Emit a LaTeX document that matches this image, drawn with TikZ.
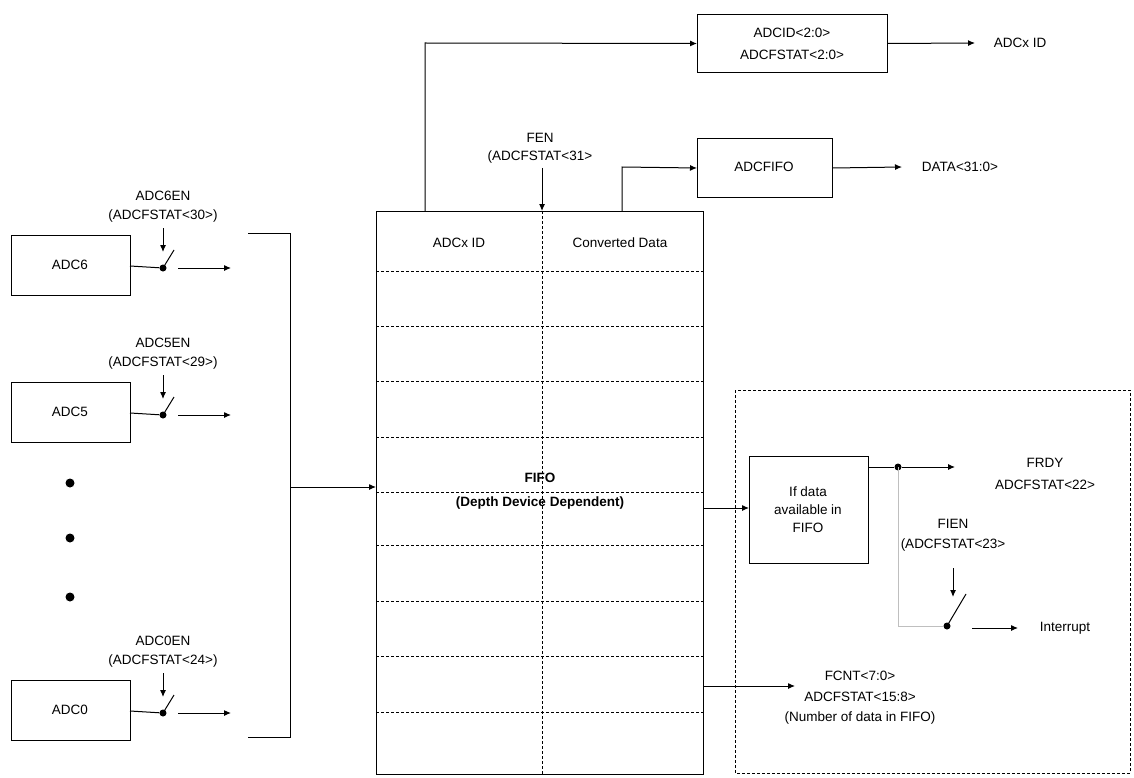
\documentclass[tikz,border=0pt]{standalone}
\usepackage{fontspec}
\setmainfont{Liberation Sans}
\usetikzlibrary{arrows.meta}
\begin{document}
\begin{tikzpicture}[x=1pt,y=-1pt,
  every node/.style={font=\fontsize{13.5}{16}\selectfont, inner sep=0pt},
  box/.style={draw, line width=1pt, anchor=north west},
  ar/.style={line width=1pt, -{Latex[length=7pt,width=6pt]}},
  ln/.style={line width=1pt},
  dotn/.style={circle, fill, minimum size=7pt},
  dsh/.style={line width=0.7pt, dash pattern=on 3pt off 2pt}]
\useasboundingbox (0,0) rectangle (1134,778);
% ADC boxes with switches
\foreach \n/\y/\b/\lab in {6/235/266/30, 5/382/413/29, 0/680/711/24}{
  \node[box, minimum width=119pt, minimum height=60pt] (adc\n) at (11,\y) {};
  \node at (70,\y+30) {ADC\n};
  \node[dotn] (d\n) at (163,\b+2) {};
  \draw[ln] (130,\b) -- (d\n);
  \draw[ln] (d\n.center) -- ++(11,-18);
  \coordinate (s\n) at (178,\b+2);
  \coordinate (e\n) at (231,\b+2);
  \draw[ar] (s\n) -- (e\n);
  \node (l\n) at (163,\b-70) {ADC\n EN};
  \node (m\n) at (163,\b-50) {(ADCFSTAT<\lab>)};
  \draw[ar] (163,\b-38) -- (163,\b-14);
}
\foreach \y in {483,538,597} \node[dotn, minimum size=9pt] at (70,\y) {};
% bracket
\draw[ln] (248,233) -- (290,233) -- (290,737) -- (248,737);
% FIFO
\node[box, minimum width=327pt, minimum height=563pt] (fifo) at (376,211) {};
\draw[dsh] (542,211) -- (542,774);
\foreach \y in {271,326,381,437,492,545,601,656,712} \draw[dsh] (376,\y) -- (703,\y);
\node at (459,243) {ADCx ID};
\node at (620,243) {Converted Data};
\node[font=\fontsize{13.5}{16}\selectfont\bfseries] at (540,478) {FIFO};
\node[font=\fontsize{13.5}{16}\selectfont\bfseries] at (540,503) {(Depth Device Dependent)};
\draw[ar] (290,487) -- (fifo.west |- 0,487);
% FEN
\node at (540,138) {FEN};
\node at (540,157) {(ADCFSTAT<31>};
\draw[ar] (542,168) -- (542,211);
% ADCID
\node[box, minimum width=190pt, minimum height=58pt] (id) at (697,14) {};
\node at (792,33) {ADCID<2:0>};
\node at (792,55) {ADCFSTAT<2:0>};
\draw[ar] (425,211) -- (425,43) -- (id.west);
\draw[ar] (id.east) -- (975,43);
\node at (1020,43) {ADCx ID};
% ADCFIFO
\node[box, minimum width=135pt, minimum height=59pt] (ff) at (697,138) {};
\node at (764,167) {ADCFIFO};
\draw[ar] (622,211) -- (622,167) -- (ff.west);
\draw[ar] (ff.east) -- (902,167);
\node at (960,167) {DATA<31:0>};
% dashed region
\draw[dsh] (735,390) rectangle (1130,773);
\node[box, minimum width=119pt, minimum height=107pt] (if) at (749,456) {};
\node[align=center, font=\fontsize{13.5}{18}\selectfont] at (808,510) {If data\\available in\\FIFO};
\draw[ar] (703,508) -- (if.west |- 0,508);
\node[dotn] (fd) at (898,467) {};
\draw[ln] (868,467) -- (fd);
\draw[ar] (fd) -- (955,467);
\node at (1045,463) {FRDY};
\node at (1045,485) {ADCFSTAT<22>};
\node[dotn] (id2) at (947,626) {};
\draw[line width=1pt, gray!50] (fd.center) -- (898,626) -- (id2);
\draw[ln] (id2.center) -- (966,594);
\draw[ar] (972,628) -- (1018,628);
\node at (1065,628) {Interrupt};
\node at (953,524) {FIEN};
\node at (953,545) {(ADCFSTAT<23>};
\draw[ar] (953,568) -- (953,597);
\draw[ar] (703,686) -- (795,686);
\node at (860,676) {FCNT<7:0>};
\node at (860,697) {ADCFSTAT<15:8>};
\node at (860,718) {(Number of data in FIFO)};
\end{tikzpicture}
\end{document}
